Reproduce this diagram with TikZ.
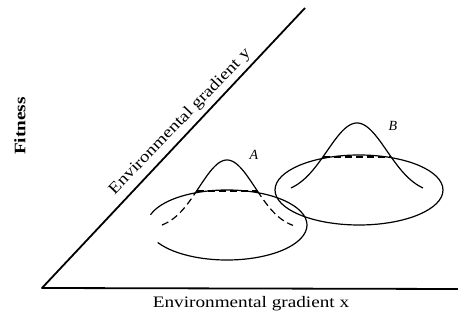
\documentclass[tikz,border=0pt]{standalone}
\usepackage{fontspec}
\setmainfont{Liberation Serif}
\usepackage{graphicx}
\tikzset{
  axisline/.style={line width=1.8pt, line join=round},
  curve/.style={line width=1.2pt},
  hidden/.style={line width=1.2pt, dash pattern=on 7pt off 4pt},
  lab/.style={inner sep=0pt, font=\fontsize{16}{18}\selectfont},
  peaklab/.style={inner sep=0pt, font=\fontsize{14}{16}\selectfont\itshape}
}
\begin{document}
\begin{tikzpicture}[x=1pt,y=-1pt]
\useasboundingbox (0,0) rectangle (458,320);
% axes
\coordinate (O) at (42,288);
\coordinate (X) at (458,289);
\coordinate (Y) at (305,8);
\draw[axisline] (Y) -- (O) -- (X);
% labels
\node[lab, font=\fontsize{16}{18}\selectfont\bfseries, rotate=90] (fit) at (20,126) {\scalebox{1.2}[1]{Fitness}};
\node[lab] (gx) at (251,304) {\scalebox{1.2}[1]{Environmental gradient x}};
\node[lab, rotate=46] (gy) at (180,122) {\scalebox{1.2}[1]{Environmental gradient y}};
% ellipse A (with small gap at left)
\coordinate (cA) at (227,225);
\draw[curve] (cA) ++(197:80 and 35) arc[start angle=197, end angle=510, x radius=80, y radius=35];
% ellipse B
\coordinate (cB) at (359,190);
\draw[curve] (cB) ellipse[x radius=84, y radius=35];
% bell A
\draw[hidden] plot[domain=-65:-30.4, samples=25] ({227+\x},{229.7-69.7*exp(-(\x*\x)/1568)});
\draw[curve] plot[domain=-30.4:30.4, samples=40] ({227+\x},{229.7-69.7*exp(-(\x*\x)/1568)});
\draw[hidden] plot[domain=30.4:66, samples=25] ({227+\x},{229.7-69.7*exp(-(\x*\x)/1568)});
\draw[hidden] (196.6,191) -- (257.4,191);
% bell B
\draw[curve] plot[domain=-66:66, samples=70] ({357+\x},{194.3-71.3*exp(-(\x*\x)/1800)});
\draw[hidden] (323,157) -- (391,157);
% peak labels
\node[peaklab] (A) at (254,155) {A};
\node[peaklab] (B) at (393,126) {B};
\end{tikzpicture}
\end{document}
